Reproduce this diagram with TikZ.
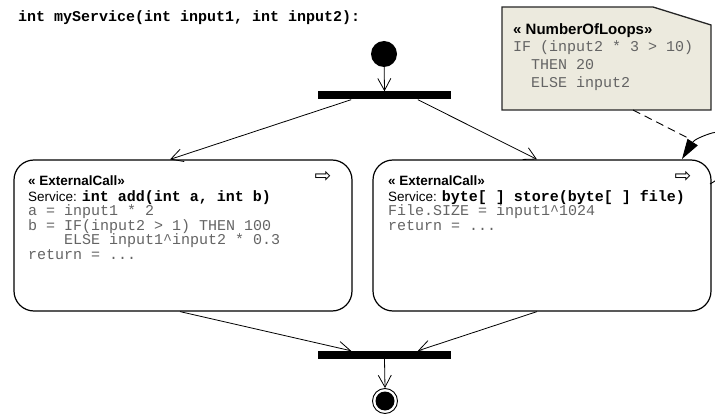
\documentclass[tikz,border=0pt]{standalone}
\usepackage{fontspec}
\setmainfont{Liberation Sans}
\setsansfont{Liberation Sans}
\setmonofont{Liberation Mono}
\newfontfamily\symfont{DejaVu Sans}
\usetikzlibrary{arrows.meta,calc}
\definecolor{codegray}{RGB}{100,100,100}
\definecolor{notefill}{RGB}{236,234,222}
\newcommand\mbold[1]{{\fontsize{15}{15}\selectfont\ttfamily\bfseries #1}}
\begin{document}
\begin{tikzpicture}[x=1pt,y=-1pt,
  hd/.style={anchor=base west, inner sep=0pt, font=\fontsize{13.5}{15}\selectfont\sffamily\bfseries},
  notehd/.style={anchor=base west, inner sep=0pt, font=\fontsize{15}{15}\selectfont\sffamily\bfseries},
  svc/.style={anchor=base west, inner sep=0pt, font=\fontsize{13.5}{15}\selectfont\sffamily},
  code/.style={anchor=base west, inner sep=0pt, text=codegray, font=\fontsize{15}{15}\selectfont\ttfamily},
  act/.style={draw, line width=1.2pt, rounded corners=20pt, minimum width=338pt, minimum height=151pt, inner sep=0pt},
  bar/.style={fill=black, minimum width=133pt, minimum height=8pt, inner sep=0pt},
  flow/.style={-{Straight Barb[length=12pt,width=13pt]}, line width=0.8pt},
  sym/.style={inner sep=0pt, font=\symfont\fontsize{20}{20}\selectfont}
]
\path[use as bounding box, clip] (0,0) rectangle (715,414);

% title
\node[anchor=base west, inner sep=0pt, font=\fontsize{15}{15}\selectfont\ttfamily\bfseries] (title) at (18,22) {int myService(int input1, int input2):};

% note
\draw[fill=notefill, draw=black!85, line width=1.3pt] (502,7) -- (653,7) -- (711,25) -- (711,110) -- (502,110) -- cycle;
\node[notehd] (nh) at (513,35) {« NumberOfLoops»};
\node[code] (n1) at (513,52) {IF (input2 * 3 > 10)};
\node[code] (n2) at (513,70) {~~THEN 20};
\node[code] (n3) at (513,88) {~~ELSE input2};

% start, fork
\node[circle, fill=black, minimum size=26pt, inner sep=0pt] (start) at (384,54) {};
\node[bar] (fork) at (384.5,95.5) {};

% actions
\node[act] (lbox) at (183,235.5) {};
\node[act] (rbox) at (542,235.5) {};

\node[hd] (lh) at (28,186) {« ExternalCall»};
\node[svc] (ls) at (28,202) {Service: \mbold{int add(int a, int b)}};
\node[code] (l1) at (28,216) {a = input1 * 2};
\node[code] (l2) at (28,231) {b = IF(input2 > 1) THEN 100};
\node[code] (l3) at (28,245) {~~~~ELSE input1\textasciicircum input2 * 0.3};
\node[code] (l4) at (28,259) {return = ...};
\node[sym] (la) at (323,177) {⇨};

\node[hd] (rh) at (388,186) {« ExternalCall»};
\node[svc] (rs) at (388,202) {Service: \mbold{byte[ ] store(byte[ ] file)}};
\node[code] (r1) at (388,216) {File.SIZE = input1\textasciicircum 1024};
\node[code] (r2) at (388,231) {return = ...};
\node[sym] (ra) at (683,177) {⇨};

% join, end
\node[bar] (join) at (384.5,355) {};
\node[circle, draw, line width=0.9pt, minimum size=25pt, inner sep=0pt] (end) at (385,401) {};
\node[circle, fill=black, minimum size=19pt, inner sep=0pt] (endin) at (end.center) {};

% flows
\draw[flow] (start) -- (fork.north);
\draw[flow] ($(fork.south)!0.5!(fork.south west)$) -- ([xshift=-13pt]lbox.north);
\draw[flow] ($(fork.south)!0.5!(fork.south east)$) -- ([xshift=-5pt]rbox.north);
\draw[flow] ([xshift=-3pt]lbox.south) -- ($(join.north)!0.5!(join.north west)$);
\draw[flow] ([xshift=-5pt]rbox.south) -- ($(join.north)!0.5!(join.north east)$);
\draw[flow] (join.south) -- (end.north);

% loop
\coordinate (lps) at (710,184);
\coordinate (lpe) at (682,159);
\draw[line width=0.9pt, -{Triangle[length=20pt,width=12pt]}] (lps) .. controls (745,165) and (740,125) .. (712,133) .. controls (702,136) and (694,140) .. (lpe);

% annotation link
\coordinate (nb) at (633,110);
\coordinate (lp) at (690,139);
\draw[line width=0.9pt, dash pattern=on 8pt off 5pt] (nb) -- (lp);
\end{tikzpicture}
\end{document}
